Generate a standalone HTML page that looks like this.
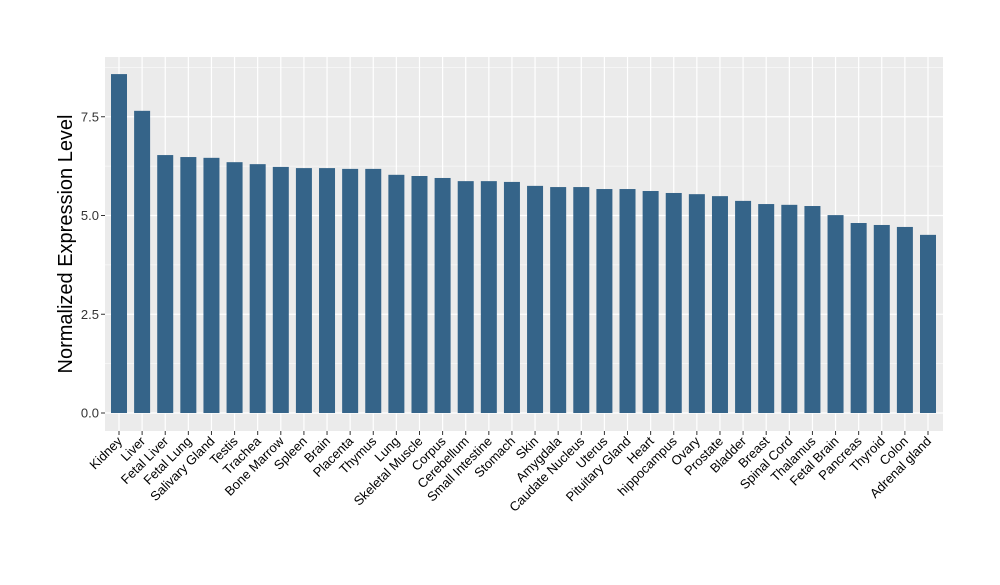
<!DOCTYPE html>
<html><head><meta charset="utf-8"><style>body{margin:0;background:#fff}svg text{font-family:"Liberation Sans",Arial,sans-serif}</style></head>
<body>
<svg id="chart" width="1000" height="580" xmlns="http://www.w3.org/2000/svg">
<rect x="105" y="57" width="838" height="374" fill="#EBEBEB"/>
<g id="grid"></g><g id="bars"></g><g id="axes"></g>
<text transform="translate(72,244) rotate(-90)" text-anchor="middle" font-size="20" fill="#000">Normalized Expression Level</text>
</svg>
<script>
const categories=["Kidney","Liver","Fetal Liver","Fetal Lung","Salivary Gland","Testis","Trachea","Bone Marrow","Spleen","Brain","Placenta","Thymus","Lung","Skeletal Muscle","Corpus","Cerebellum","Small Intestine","Stomach","Skin","Amygdala","Caudate Nucleus","Uterus","Pituitary Gland","Heart","hippocampus","Ovary","Prostate","Bladder","Breast","Spinal Cord","Thalamus","Fetal Brain","Pancreas","Thyroid","Colon","Adrenal gland"];
const values=[8.58,7.65,6.53,6.48,6.46,6.35,6.30,6.23,6.20,6.20,6.18,6.18,6.03,6.00,5.95,5.87,5.87,5.85,5.75,5.72,5.72,5.67,5.67,5.62,5.57,5.54,5.49,5.37,5.29,5.27,5.24,5.01,4.81,4.76,4.71,4.51];
const yTicks=[0,2.5,5,7.5];
const yTickLabels=["0.0","2.5","5.0","7.5"];
const yMinor=[1.25,3.75,6.25,8.75];
const NS="http://www.w3.org/2000/svg";
const x0=119,step=(928-119)/(categories.length-1),bw=16;
const X=i=>x0+i*step;
const Y=v=>413-v*39.5;
function mk(t,a,p){const e=document.createElementNS(NS,t);for(const k in a)e.setAttribute(k,a[k]);p.appendChild(e);return e;}
const grid=document.getElementById('grid'),bars=document.getElementById('bars'),axes=document.getElementById('axes');
yMinor.forEach(v=>{const l=mk('line',{x1:105,x2:943,y1:Y(v),y2:Y(v),stroke:'#fff','stroke-width':0.6},grid);

});
yTicks.forEach((v,i)=>{const l=mk('line',{x1:105,x2:943,y1:Y(v),y2:Y(v),stroke:'#fff','stroke-width':1.2},grid);


const t=mk('line',{x1:101,x2:105,y1:Y(v),y2:Y(v),stroke:'#333','stroke-width':1},axes);


const tx=mk('text',{x:99,y:Y(v)+4.5,'text-anchor':'end','font-size':13,fill:'#333'},axes);
tx.textContent=yTickLabels[i];

});
categories.forEach((c,i)=>{const x=X(i);
const g=mk('line',{x1:x,x2:x,y1:57,y2:431,stroke:'#fff','stroke-width':1.2},grid);


const r=mk('rect',{x:x-bw/2,y:Y(values[i]),width:bw,height:Y(0)-Y(values[i]),fill:'#356489'},bars);


const t=mk('line',{x1:x,x2:x,y1:431,y2:435,stroke:'#333','stroke-width':1},axes);


const tx=mk('text',{transform:`translate(${x+4},${442}) rotate(-45)`,'text-anchor':'end','font-size':13,fill:'#000'},axes);
tx.textContent=c;

});
</script>
</body></html>
